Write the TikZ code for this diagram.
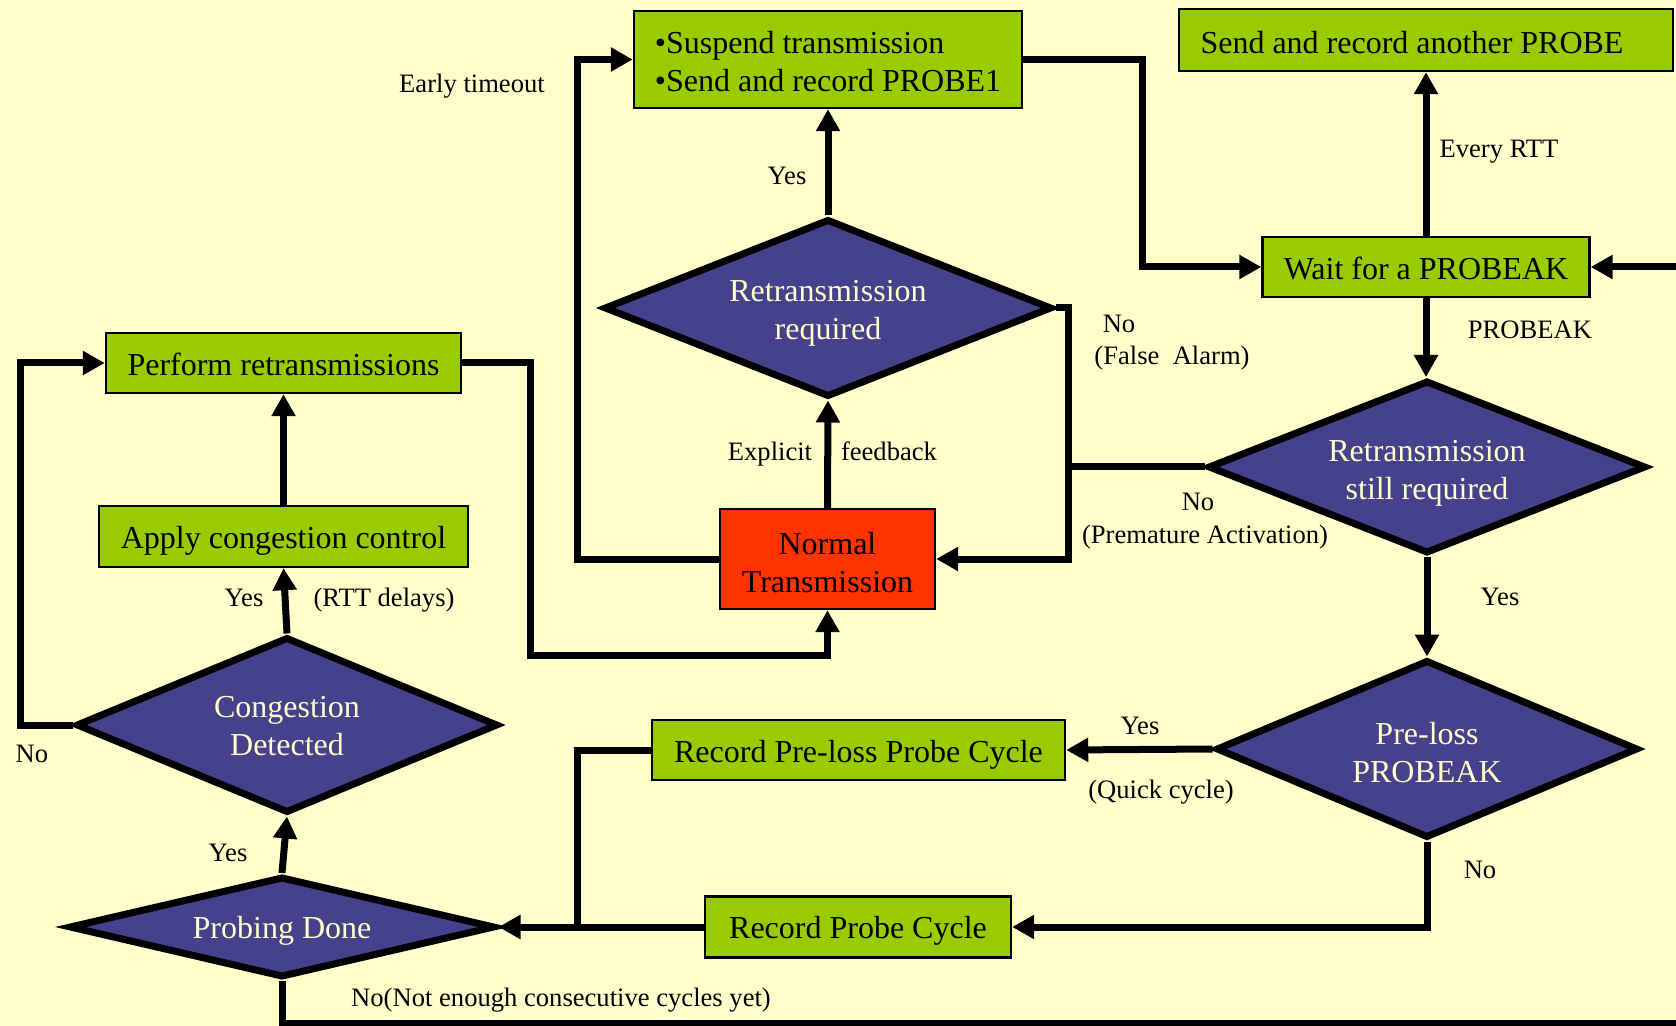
\documentclass[tikz,border=0pt]{standalone}
\usepackage{fontspec}
\setmainfont{Liberation Serif}
\usetikzlibrary{shapes.geometric,arrows.meta}
\definecolor{bgc}{HTML}{FFFFCC}
\definecolor{boxg}{HTML}{99CC00}
\definecolor{redbox}{HTML}{FF3300}
\definecolor{dia}{RGB}{70,65,140}
\begin{document}
\begin{tikzpicture}[x=0.5pt,y=-0.5pt,
  box/.style={draw=black, line width=1.2pt, fill=boxg, inner sep=0pt},
  dec/.style={shape=diamond, draw=black, line width=3.5pt, fill=dia, inner sep=0pt},
  bt/.style={font=\fontsize{16}{19}\selectfont, align=center, inner sep=0pt},
  dt/.style={bt, text=bgc},
  conn/.style={line width=3.5pt, -{Triangle[length=11pt,width=11.5pt]}},
  plain/.style={line width=3.5pt},
  lbl/.style={font=\fontsize{13.3}{16}\selectfont, inner sep=0pt, anchor=base}
]
\fill[bgc] (0,0) rectangle (1676,1026);
\useasboundingbox (0,0) rectangle (1676,1026);
\clip (0,0) rectangle (1676,1026);

% boxes
\node[box, minimum width=194pt, minimum height=48.5pt,
  label={[bt, align=left, yshift=-1.1pt]center:{•Suspend transmission\\•Send and record PROBE1}}] (susp) at (828,59.5) {};
\node[box, minimum width=247pt, minimum height=31pt,
  label={[bt, yshift=-1.1pt]center:{Send and record another PROBE\hspace*{14pt}}}] (another) at (1426,40) {};
\node[box, minimum width=163.5pt, minimum height=30pt,
  label={[bt, yshift=-0.6pt]center:{Wait for a PROBEAK}}] (wait) at (1426,267) {};
\node[box, minimum width=177.5pt, minimum height=30pt,
  label={[bt, yshift=-0.6pt]center:{Perform retransmissions}}] (perf) at (283.5,363) {};
\node[box, minimum width=184.5pt, minimum height=30.5pt,
  label={[bt, yshift=-2pt]center:{Apply congestion control}}] (apply) at (283.5,536.5) {};
\node[box, fill=redbox, minimum width=107.5pt, minimum height=50pt,
  label={[bt, yshift=-1.6pt]center:{Normal\\Transmission}}] (normal) at (827.5,559) {};
\node[box, minimum width=206.5pt, minimum height=30pt,
  label={[bt, yshift=-2.5pt]center:{Record Pre-loss Probe Cycle}}] (prerec) at (858.5,750) {};
\node[box, minimum width=153pt, minimum height=30.5pt,
  label={[bt, yshift=-2pt]center:{Record Probe Cycle}}] (rpc) at (858,927) {};

% decisions
\node[dec, minimum width=224pt, minimum height=89pt,
  label={[dt, yshift=-2.6pt]center:{Retransmission\\required}}] (D1) at (828,308) {};
\node[dec, minimum width=219pt, minimum height=86.5pt,
  label={[dt, yshift=-3pt]center:{Retransmission\\still required}}] (D2) at (1427,467) {};
\node[dec, minimum width=211pt, minimum height=88pt,
  label={[dt, yshift=-0.6pt]center:{Congestion\\Detected}}] (D3) at (287,725) {};
\node[dec, minimum width=211pt, minimum height=89pt,
  label={[dt, yshift=-1.6pt]center:{Pre-loss\\PROBEAK}}] (D4) at (1427,749) {};
\node[dec, minimum width=213pt, minimum height=50.5pt,
  label={[dt, yshift=-2pt]center:{Probing Done}}] (D5) at (282,927) {};

% junction coordinates
\coordinate (redge) at (1700,267);
\coordinate (bedge) at (1700,1023);
\coordinate (jleft) at (577,559);
\coordinate (jtop) at (1142,59.5);
\coordinate (jfa) at (1068,308);
\coordinate (jpa) at (1068,467);
\coordinate (jpre) at (577,928);
\coordinate (jno) at (20,725);
\coordinate (jpr1) at (530,363);
\coordinate (jpr2) at (530,655);

% connectors
\draw[conn] (normal.north) -- (D1.south);
\draw[conn] (D1.north) -- (susp.south);
\draw[conn] (normal.west) -- (jleft) |- (susp.west);
\draw[conn] (susp.east) -- (jtop) |- (wait.west);
\draw[conn] (wait.north) -- (another.south);
\draw[conn] (redge) -- (wait.east);
\draw[conn] (wait.south) -- (wait.south |- D2.north);
\draw[conn] (D1.east) -- (jfa) |- (normal.east);
\draw[plain] (D2.west) -- (jpa);
\draw[conn] (D2.south) -- (D4.north);
\draw[conn] (D4.west) -- (prerec.east);
\draw[conn] (D4.south) |- (rpc.east);
\draw[conn] (rpc.west) -- (D5.east);
\draw[plain] (prerec.west) -| (jpre);
\draw[conn] (D5.north) -- (D3.south);
\draw[conn] (D3.north) -- (apply.south);
\draw[conn] (apply.north) -- (perf.south);
\draw[conn] (D3.west) -- (jno) |- (perf.west);
\draw[conn] (perf.east) -- (jpr1) -- (jpr2) -| (normal.south);
\draw[plain] (D5.south) |- (bedge);

% labels (baselines)
\node[lbl] (l1) at (472,93) {Early timeout};
\node[lbl] (l2) at (787,185) {Yes};
\node[lbl] (l3) at (770,461) {Explicit};
\node[lbl] (l4) at (889,461) {feedback};
\node[lbl] (l5) at (1119,333) {No};
\node[lbl] (l6) at (1172,365) {(False~~Alarm)};
\node[lbl] (l7) at (1198,510) {No};
\node[lbl] (l8) at (1205,544) {(Premature Activation)};
\node[lbl] (l9) at (1499,158) {Every RTT};
\node[lbl] (l10) at (1530,339) {PROBEAK};
\node[lbl] (l11) at (1500,605) {Yes};
\node[lbl] (l12) at (1140,734) {Yes};
\node[lbl] (l13) at (1161,798) {(Quick cycle)};
\node[lbl] (l14) at (1480,878) {No};
\node[lbl] (l15) at (244,606) {Yes};
\node[lbl] (l16) at (384,606) {(RTT delays)};
\node[lbl] (l17) at (32,762) {No};
\node[lbl] (l18) at (228,861) {Yes};
\node[lbl] (l19) at (561,1006) {No(Not enough consecutive cycles yet)};
\end{tikzpicture}
\end{document}
